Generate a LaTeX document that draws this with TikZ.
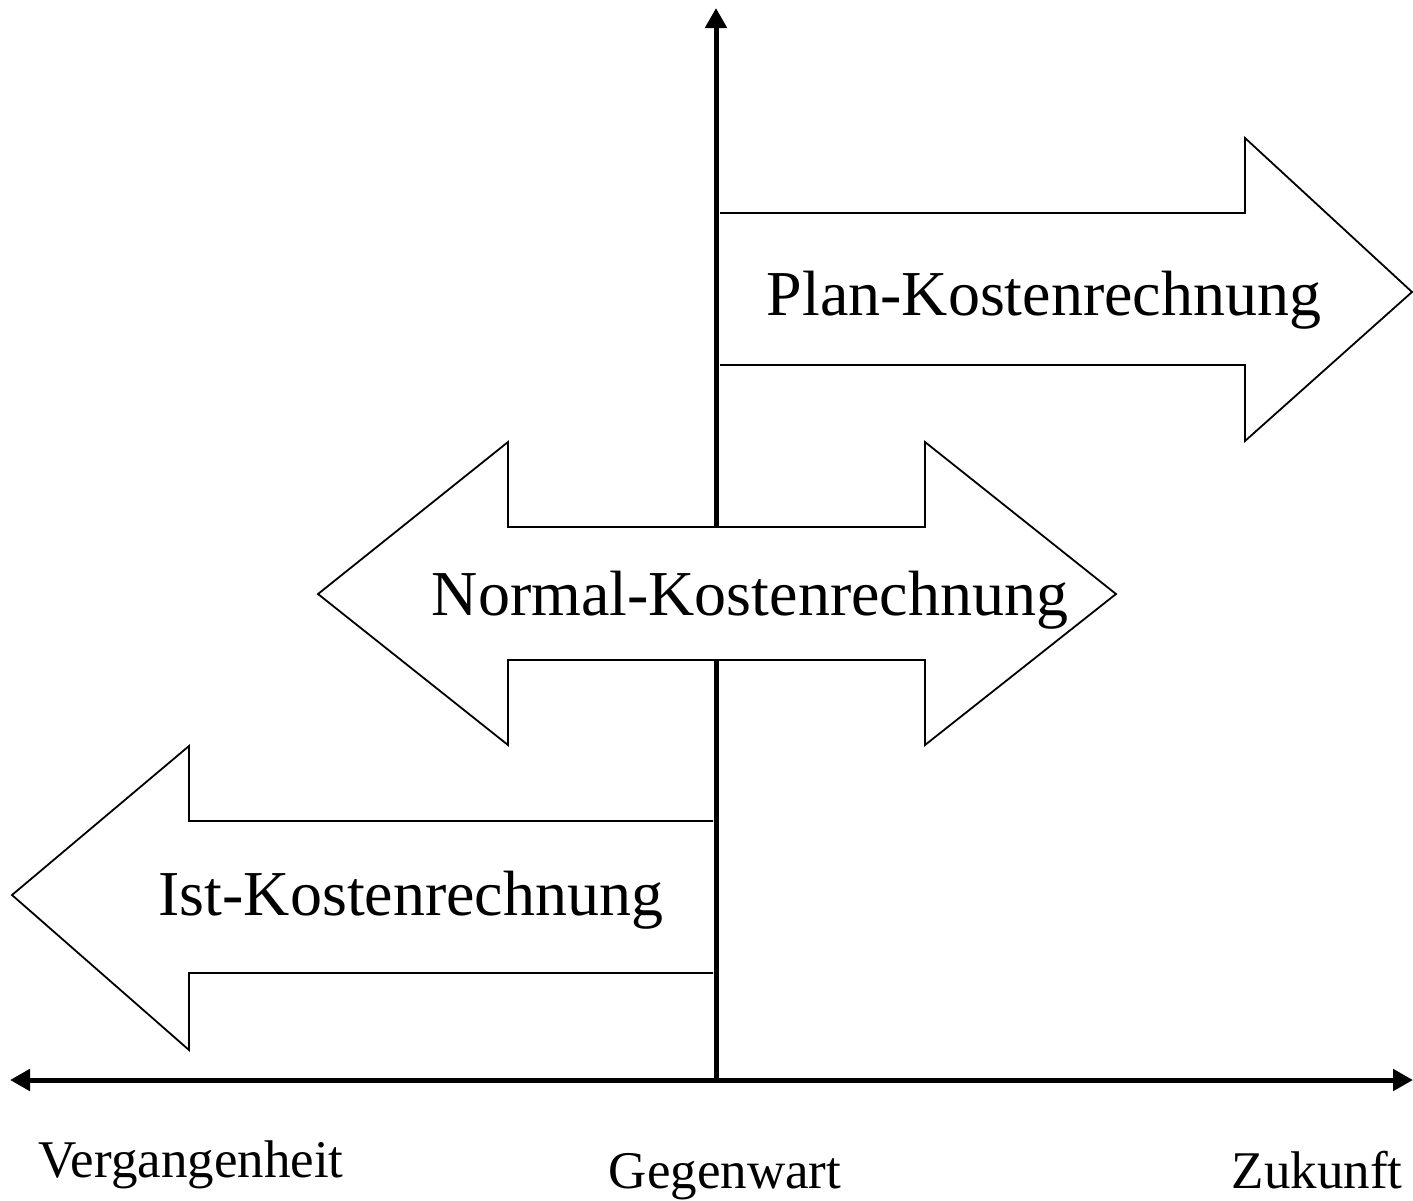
\documentclass[tikz,border=0pt]{standalone}
\usepackage{fontspec}
\setmainfont{Liberation Serif}
\usetikzlibrary{arrows.meta}
\tikzset{
  axis/.style={line width=5pt, -{Triangle[length=20pt,width=21pt]}},
  bigarrow/.style={draw=black, fill=white, line width=1.8pt, line join=miter},
  biglabel/.style={inner sep=0pt, anchor=base, font=\fontsize{64}{70}\selectfont},
  timelabel/.style={inner sep=0pt, anchor=base, font=\fontsize{53}{60}\selectfont},
}
\begin{document}
\begin{tikzpicture}[x=1pt,y=-1pt]
\useasboundingbox (0,0) rectangle (1413,1200);
% coordinates for axes
\coordinate (origin) at (716,1080);
\coordinate (top) at (716,8);
\coordinate (left) at (10,1080);
\coordinate (right) at (1413,1080);
% Plan arrow (behind axis)
\draw[bigarrow] (720,213) -- (1245,213) -- (1245,138) -- (1412,292) -- (1245,441) -- (1245,365) -- (720,365);
% Ist arrow
\draw[bigarrow] (713,821) -- (189,821) -- (189,746) -- (12,895) -- (189,1050) -- (189,973) -- (713,973);
% axes
\draw[axis] (origin) -- (top);
\draw[line width=5pt, {Triangle[length=20pt,width=21pt]}-{Triangle[length=20pt,width=21pt]}] (left) -- (right);
% Normal arrow (over axis)
\draw[bigarrow] (318,594) -- (508,442) -- (508,527) -- (925,527) -- (925,442) -- (1116,594) -- (925,745) -- (925,660) -- (508,660) -- (508,745) -- cycle;
% labels
\node[biglabel] (plan) at (1044,315) {Plan-Kostenrechnung};
\node[biglabel] (normal) at (750,615) {Normal-Kostenrechnung};
\node[biglabel] (ist) at (411,915) {Ist-Kostenrechnung};
\node[timelabel] (verg) at (191,1177) {Vergangenheit};
\node[timelabel] (gegen) at (725,1188) {Gegenwart};
\node[timelabel] (zuk) at (1317,1188) {Zukunft};
\end{tikzpicture}
\end{document}
